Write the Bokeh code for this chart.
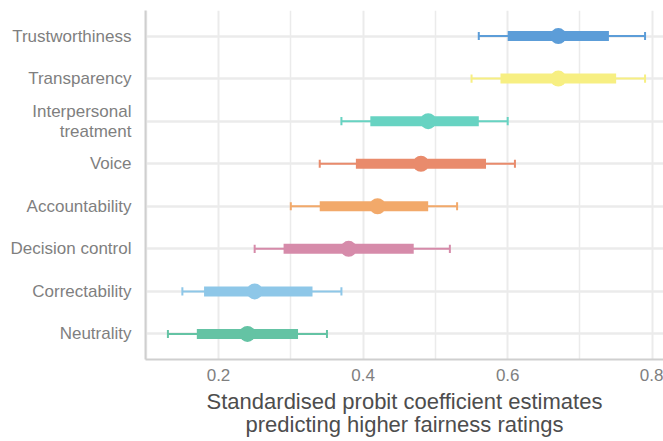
from bokeh.plotting import figure
from bokeh.models import Range1d, FixedTicker, ColumnDataSource
from bokeh.embed import file_html
from bokeh.resources import INLINE

categories = ["Trustworthiness", "Transparency", "Interpersonal\ntreatment", "Voice",
              "Accountability", "Decision control", "Correctability", "Neutrality"]
estimate = [0.67, 0.67, 0.49, 0.48, 0.42, 0.38, 0.25, 0.24]
inner_low = [0.60, 0.59, 0.41, 0.39, 0.34, 0.29, 0.18, 0.17]
inner_high = [0.74, 0.75, 0.56, 0.57, 0.49, 0.47, 0.33, 0.31]
outer_low = [0.56, 0.55, 0.37, 0.34, 0.30, 0.25, 0.15, 0.13]
outer_high = [0.79, 0.79, 0.60, 0.61, 0.53, 0.52, 0.37, 0.35]
colors = ["#5C9DD8", "#F7EF82", "#67D3C2", "#E98B6C", "#F2A96A", "#D68BAA", "#8EC7E8", "#64C3A4"]
x_ticks = [0.2, 0.4, 0.6, 0.8]
x_minor = [0.1, 0.3, 0.5, 0.7]

n = len(categories)
ypos = [n - i for i in range(n)]
cap = 0.095

src = ColumnDataSource(dict(
    y=ypos, est=estimate, il=inner_low, ih=inner_high, ol=outer_low, oh=outer_high,
    c=colors, yl=[v - cap for v in ypos], yh=[v + cap for v in ypos],
))

p = figure(width=663, height=441, output_backend="svg", toolbar_location=None,
           x_range=Range1d(0.099, 0.8155), y_range=Range1d(0.4, n + 0.6),
           min_border_left=145, min_border_right=0, min_border_top=10, min_border_bottom=82)
p.outline_line_color = None
p.background_fill_color = "white"
p.border_fill_color = "white"

# whiskers
p.segment(x0="ol", x1="oh", y0="y", y1="y", line_color="c", line_width=2, source=src)
p.segment(x0="ol", x1="ol", y0="yl", y1="yh", line_color="c", line_width=2, source=src)
p.segment(x0="oh", x1="oh", y0="yl", y1="yh", line_color="c", line_width=2, source=src)
# thick interval
p.segment(x0="il", x1="ih", y0="y", y1="y", line_color="c", line_width=10,
          line_cap="butt", source=src)
# point
p.scatter(x="est", y="y", size=16, fill_color="c", line_color="c", line_width=0, source=src)

# axes
p.xaxis.ticker = FixedTicker(ticks=x_ticks, minor_ticks=x_minor)
p.yaxis.ticker = FixedTicker(ticks=ypos)
p.yaxis.major_label_overrides = {v: c for v, c in zip(ypos, categories)}
for ax in (p.xaxis, p.yaxis):
    ax.axis_line_color = "#CFCFCF"
    ax.axis_line_width = 2
    ax.major_tick_line_color = None
    ax.minor_tick_line_color = None
    ax.major_tick_out = 0
    ax.major_tick_in = 0
    ax.major_label_text_font = "Liberation Sans"
    ax.major_label_text_color = "#7F7F7F"
p.yaxis.major_label_text_font_size = "17px"
p.yaxis.major_label_text_line_height = 1.05
p.xaxis.major_label_text_font_size = "17px"
p.yaxis.major_label_standoff = 14
p.xaxis.major_label_standoff = 5
p.xaxis.axis_label = "Standardised probit coefficient estimates\npredicting higher fairness ratings"
p.xaxis.axis_label_text_font = "Liberation Sans"
p.xaxis.axis_label_text_font_style = "normal"
p.xaxis.axis_label_text_font_size = "22px"
p.xaxis.axis_label_text_line_height = 0.95
p.xaxis.axis_label_text_color = "#4D4D4D"
p.xaxis.axis_label_standoff = 5

# grids
p.xgrid.ticker = FixedTicker(ticks=x_ticks, minor_ticks=x_minor)
p.xgrid.grid_line_color = "#EBEBEB"
p.xgrid.grid_line_width = 2
p.xgrid.minor_grid_line_color = "#EBEBEB"
p.xgrid.minor_grid_line_width = 1.5
p.ygrid.grid_line_color = "#EBEBEB"
p.ygrid.grid_line_width = 2.5

open("out.html", "w").write(file_html(p, INLINE))
